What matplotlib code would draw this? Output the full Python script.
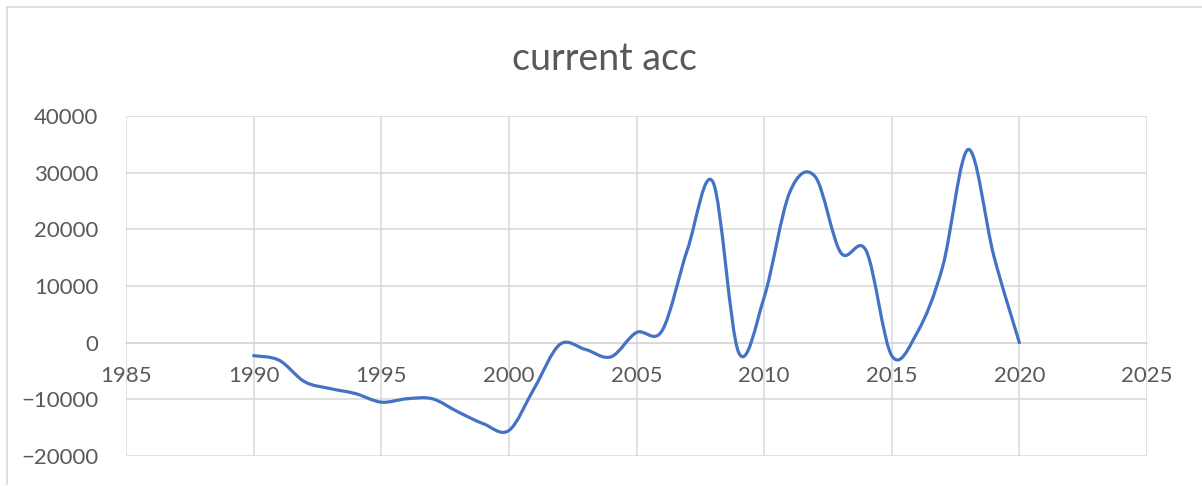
import matplotlib
matplotlib.use("Agg")
import matplotlib.pyplot as plt
import numpy as np
from matplotlib.path import Path
from matplotlib.patches import PathPatch
from matplotlib.lines import Line2D

years = list(range(1990, 2021))
current_acc = [-2300, -3100, -6900, -8100, -9000, -10500, -9900, -9900, -12200, -14300,
               -15500, -8000, -300, -1200, -2500, 1800, 2100, 16500, 28300, -1700,
               8000, 26500, 29300, 15900, 16200, -2300, 1800, 13500, 34100, 15300, 0]
x_ticks = [1985, 1990, 1995, 2000, 2005, 2010, 2015, 2020, 2025]
y_ticks = [-20000, -10000, 0, 10000, 20000, 30000, 40000]

plt.rcParams['font.family'] = ['Lato', 'DejaVu Sans']
text_col = '#595959'
grid_col = '#d9d9d9'


def smooth_path(xs, ys):
    # excel style smoothed line: cubic bezier through every point
    pts = np.column_stack([xs, ys]).astype(float)
    n = len(pts)
    verts = [pts[0]]
    codes = [Path.MOVETO]
    for i in range(n - 1):
        p0 = pts[max(i - 1, 0)]
        p1 = pts[i]
        p2 = pts[i + 1]
        p3 = pts[min(i + 2, n - 1)]
        verts += [p1 + (p2 - p0) / 6, p2 - (p3 - p1) / 6, p2]
        codes += [Path.CURVE4] * 3
    return Path(verts, codes)


fig = plt.figure(figsize=(12.02, 4.86), dpi=100)
W, H = 1202, 486
ax = fig.add_axes([126 / W, (H - 456) / H, (1147 - 126) / W, (456 - 116) / H])

ax.add_patch(PathPatch(smooth_path(years, current_acc), fill=False,
                       edgecolor='#4472C4', linewidth=2.3, capstyle='round', zorder=3))

ax.set_xlim(1985, 2025)
ax.set_ylim(-20000, 40000)
ax.set_xticks(x_ticks)
ax.set_yticks(y_ticks)
ax.grid(True, color=grid_col, linewidth=1.1)
ax.set_axisbelow(True)
for s in ['top', 'right', 'left']:
    ax.spines[s].set_visible(False)
ax.spines['bottom'].set_position(('data', 0))
ax.spines['bottom'].set_color(grid_col)
ax.spines['bottom'].set_linewidth(1.1)
ax.tick_params(axis='x', length=0, pad=17, labelsize=16, labelcolor=text_col)
ax.tick_params(axis='y', length=0, pad=20, labelsize=16, labelcolor=text_col)

fig.text(604 / W, (H - 70) / H, 'current acc', ha='center', va='baseline',
         fontsize=27, color=text_col)

# chart border
fig.add_artist(Line2D([7 / W, 1], [(H - 7) / H, (H - 7) / H], color=grid_col, linewidth=1.2))
fig.add_artist(Line2D([7 / W, 7 / W], [(H - 7) / H, (H - 484) / H], color=grid_col, linewidth=1.2))

fig.savefig('out.png', dpi=100)
